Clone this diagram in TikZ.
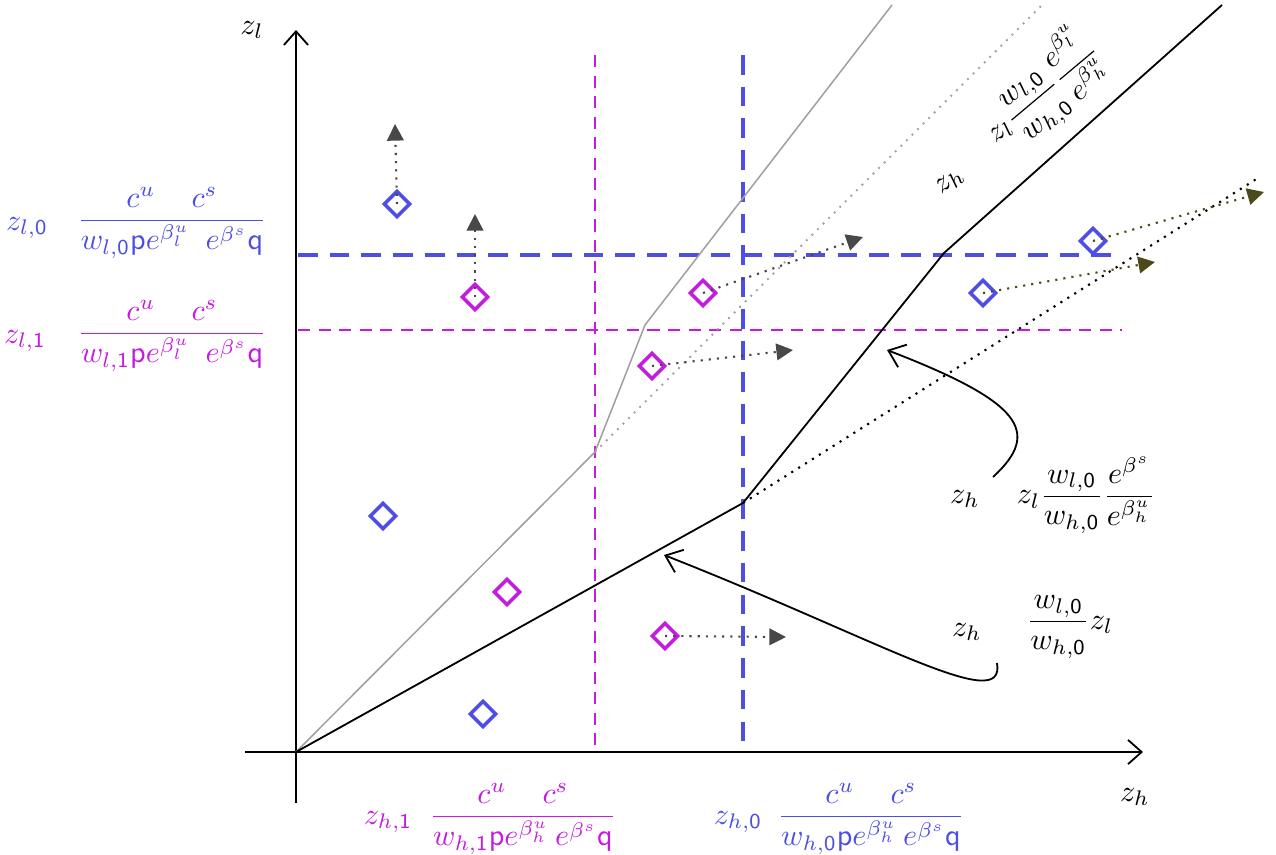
\documentclass[tikz,border=0pt]{standalone}
\usepackage{amsmath}
\usetikzlibrary{arrows.meta,shapes.geometric}
\definecolor{zblue}{RGB}{78,78,228}
\definecolor{zmag}{RGB}{196,28,222}
\definecolor{mvgray}{RGB}{72,72,72}
\definecolor{mvolive}{RGB}{74,74,26}
\tikzset{
  axis/.style={line width=0.6pt, -{Straight Barb[length=4.5pt,width=8pt]}},
  bluedash/.style={zblue, line width=1.4pt, dash pattern=on 6.5pt off 4pt},
  magdash/.style={zmag, line width=0.7pt, dash pattern=on 4pt off 2.8pt},
  bluediam/.style={draw=zblue, diamond, line width=1.2pt, inner sep=0pt, minimum size=3.1mm},
  magdiam/.style={draw=zmag, diamond, line width=1.2pt, inner sep=0pt, minimum size=3.1mm},
  move/.style={mvgray, line width=0.7pt, dotted, -{Triangle[length=5.5pt,width=5.5pt]}},
  olivemove/.style={move, mvolive},
  curvearrow/.style={line width=0.6pt, -{Straight Barb[length=5pt,width=8pt]}}
}
\begin{document}
\begin{tikzpicture}[x=0.01163cm, y=-0.01163cm]
  \useasboundingbox (0,0) rectangle (1276,855);
  % corner points of the lines
  \coordinate (O) at (296,752);
  \coordinate (gA) at (595,452);
  \coordinate (gB) at (645,325);
  \coordinate (gEnd) at (892,5);
  \coordinate (gdEnd) at (1042,5);
  \coordinate (kA) at (743,503);
  \coordinate (kB) at (944,253);
  \coordinate (kEnd) at (1222,5);
  \coordinate (kdEnd) at (1258,178);

  % thresholds
  \draw[bluedash] (298,255) -- (1120,255);
  \draw[bluedash] (743,55) -- (743,745);
  \draw[magdash] (298,330) -- (1122,330);
  \draw[magdash] (595,55) -- (595,752);

  % axes
  \draw[axis] (245,752) -- (1143,752);
  \draw[axis] (296,803) -- (296,30);
  \node (zhAxis) at (1135,797) {$z_h$};
  \node (zlAxis) at (252,30) {$z_l$};

  % boundaries
  \draw[gray!75, line width=0.5pt] (O) -- (gA) -- (gB) -- (gEnd);
  \draw[gray!75, line width=0.6pt, dotted] (gA) -- (gdEnd);
  \draw[line width=0.6pt] (O) -- (kA) -- (kB) -- (kEnd);
  \draw[line width=0.7pt, dotted] (kA) -- (kdEnd);

  % firms
  \node[bluediam] (b1) at (397,204) {};
  \node[bluediam] (b2) at (383,516) {};
  \node[bluediam] (b3) at (483,714) {};
  \node[bluediam] (b4) at (1093,241) {};
  \node[bluediam] (b5) at (983,293) {};
  \node[magdiam] (m1) at (475,297) {};
  \node[magdiam] (m2) at (703,293) {};
  \node[magdiam] (m3) at (652,366) {};
  \node[magdiam] (m4) at (507,592) {};
  \node[magdiam] (m5) at (665,636) {};

  % moves
  \coordinate (t1) at (395,124);
  \coordinate (t2) at (475,214);
  \coordinate (t3) at (863,237);
  \coordinate (t4) at (793,350);
  \coordinate (t5) at (786,637);
  \coordinate (t6) at (1264,192);
  \coordinate (t7) at (1155,262);
  \draw[move] (b1.center) -- (t1);
  \draw[move] (m1.center) -- (t2);
  \draw[move] (m2.center) -- (t3);
  \draw[move] (m3.center) -- (t4);
  \draw[move] (m5.center) -- (t5);
  \draw[olivemove] (b4.center) -- (t6);
  \draw[olivemove] (b5.center) -- (t7);

  % threshold labels
  \node[zblue] (zl0) at (27,228) {$z_{l,\mathsf{0}}$};
  \node[zblue] (zl0v) at (172,223) {$\dfrac{c^u\hspace{12pt}c^s}{w_{l,\mathsf{0}}\mathsf{p}e^{\beta_l^u}\hspace{5pt}e^{\beta^s}\mathsf{q}}$};
  \node[zmag] (zl1) at (25,341) {$z_{l,\mathsf{1}}$};
  \node[zmag] (zl1v) at (172,336) {$\dfrac{c^u\hspace{12pt}c^s}{w_{l,\mathsf{1}}\mathsf{p}e^{\beta_l^u}\hspace{5pt}e^{\beta^s}\mathsf{q}}$};
  \node[zmag] (zh1) at (388,822) {$z_{h,\mathsf{1}}$};
  \node[zmag] (zh1v) at (523,819) {$\dfrac{c^u\hspace{12pt}c^s}{w_{h,\mathsf{1}}\mathsf{p}e^{\beta_h^u}\hspace{2pt}e^{\beta^s}\mathsf{q}}$};
  \node[zblue] (zh0) at (738,822) {$z_{h,\mathsf{0}}$};
  \node[zblue] (zh0v) at (871,819) {$\dfrac{c^u\hspace{12pt}c^s}{w_{h,\mathsf{0}}\mathsf{p}e^{\beta_h^u}\hspace{2pt}e^{\beta^s}\mathsf{q}}$};

  % boundary labels
  \node[rotate=40] (rotzh) at (950,182) {$z_h$};
  \node[rotate=40] (rotv) at (1043,92) {$z_l\dfrac{w_{l,\mathsf{0}}}{w_{h,\mathsf{0}}}\dfrac{e^{\beta_l^u}}{e^{\beta_h^u}}$};
  \node (midzh) at (965,499) {$z_h$};
  \node (midv) at (1086,495) {$z_l\dfrac{w_{l,\mathsf{0}}}{w_{h,\mathsf{0}}}\dfrac{e^{\beta^s}}{e^{\beta_h^u}}$};
  \node (lowzh) at (967,632) {$z_h$};
  \node (lowv) at (1070,627) {$\dfrac{w_{l,\mathsf{0}}}{w_{h,\mathsf{0}}}z_l$};

  % pointers
  \coordinate (p1) at (993,477);
  \coordinate (p1tip) at (887,350);
  \coordinate (p2) at (997,663);
  \coordinate (p2tip) at (664,555);
  \draw[curvearrow] (p1) .. controls (1042,432) and (1022,402) .. (p1tip);
  \draw[curvearrow] (p2) .. controls (1006,716) and (880,640) .. (p2tip);
\end{tikzpicture}
\end{document}
